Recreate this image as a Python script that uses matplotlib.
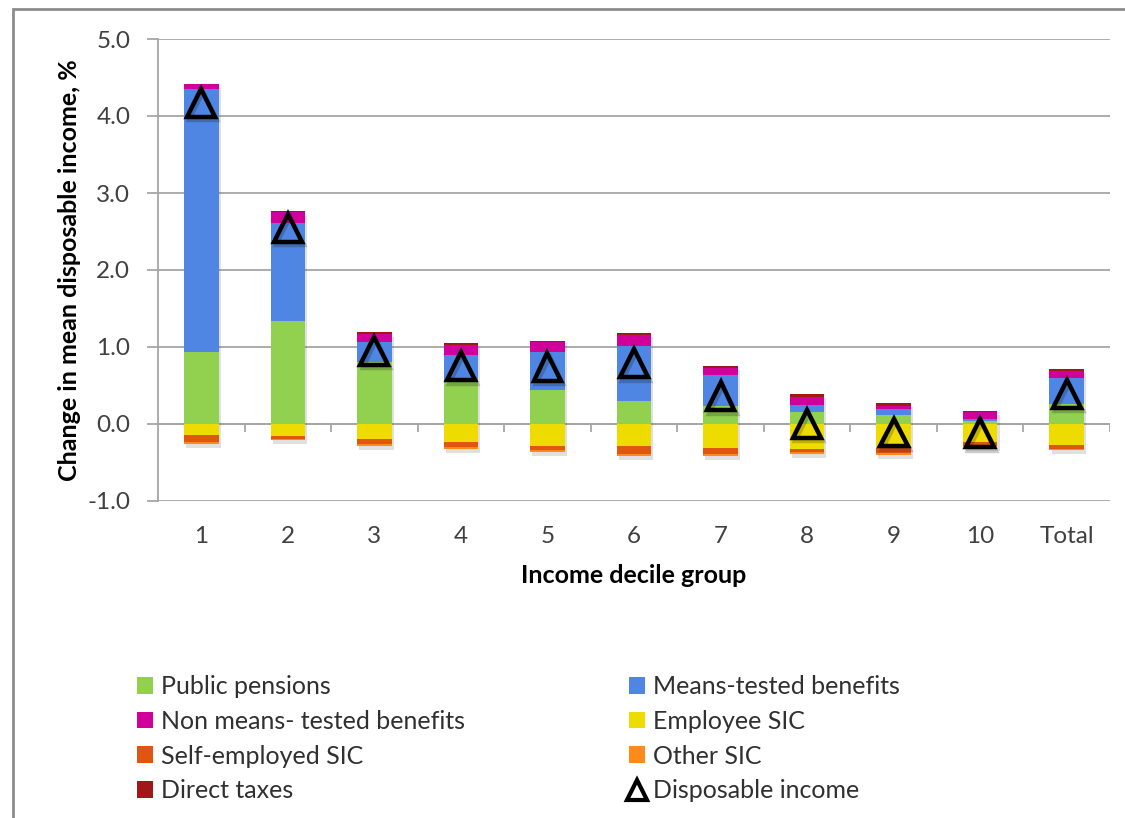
import matplotlib
matplotlib.use("Agg")
import matplotlib.pyplot as plt
import matplotlib.patheffects as pe
from matplotlib.patches import Patch, Rectangle
from matplotlib.lines import Line2D
import numpy as np

plt.rcParams['font.family'] = ['Lato', 'DejaVu Sans']

categories = ['1', '2', '3', '4', '5', '6', '7', '8', '9', '10', 'Total']
public_pensions = [0.93, 1.34, 0.80, 0.54, 0.44, 0.30, 0.23, 0.15, 0.12, 0.04, 0.26]
means_tested = [3.42, 1.27, 0.26, 0.36, 0.49, 0.71, 0.40, 0.10, 0.07, 0.02, 0.34]
non_means_tested = [0.06, 0.14, 0.11, 0.13, 0.13, 0.15, 0.10, 0.10, 0.04, 0.09, 0.09]
direct_taxes = [0.01, 0.01, 0.02, 0.02, 0.02, 0.02, 0.02, 0.04, 0.04, 0.02, 0.03]
employee_sic = [-0.14, -0.16, -0.19, -0.24, -0.28, -0.29, -0.31, -0.32, -0.31, -0.23, -0.27]
self_employed_sic = [-0.10, -0.03, -0.07, -0.06, -0.06, -0.10, -0.08, -0.05, -0.07, -0.05, -0.05]
other_sic = [-0.02, -0.02, -0.02, -0.02, -0.02, -0.02, -0.02, -0.02, -0.02, -0.02, -0.02]
disposable_income = [4.17, 2.55, 0.95, 0.75, 0.74, 0.79, 0.36, 0.00, -0.11, -0.12, 0.39]

positive_series = [
    ('Public pensions', public_pensions, '#92D050'),
    ('Means-tested benefits', means_tested, '#4F86E3'),
    ('Non means- tested benefits', non_means_tested, '#D0009A'),
    ('Direct taxes', direct_taxes, '#A01818'),
]
negative_series = [
    ('Employee SIC', employee_sic, '#EEDC00'),
    ('Self-employed SIC', self_employed_sic, '#E0560E'),
    ('Other SIC', other_sic, '#FF8A1A'),
]
colors = {n: c for n, _, c in positive_series + negative_series}

fig = plt.figure(figsize=(11.25, 8.18), dpi=100)
# outer chart border
fig.patches.append(Rectangle((13/1125, -0.05), 1.2, 1 - 9/818 + 0.05, transform=fig.transFigure,
                             fill=False, edgecolor='#8c8c8c', linewidth=2))

ax = fig.add_axes([158/1125, 1 - 501/818, (1110 - 158)/1125, (501 - 39)/818])
x = np.arange(len(categories))
width = 0.4

pos_total = np.sum([np.array(v) for _, v, _ in positive_series], axis=0)
neg_total = np.sum([np.array(v) for _, v, _ in negative_series], axis=0)
# soft drop shadow behind each whole stack (shadow only, bar itself not drawn)
shadow_bars = ax.bar(x, pos_total - neg_total, width, bottom=neg_total, color='#666666',
                     linewidth=0, zorder=2.5)
for b in shadow_bars:
    b.set_path_effects([pe.SimplePatchShadow(offset=(1.5, -3), alpha=0.16, shadow_rgbFace='#404040')])

bottom = np.zeros(len(categories))
for name, vals, col in positive_series:
    v = np.array(vals)
    ax.bar(x, v, width, bottom=bottom, color=col, zorder=3, linewidth=0)
    bottom += v
bottom = np.zeros(len(categories))
for name, vals, col in negative_series:
    v = np.array(vals)
    ax.bar(x, v, width, bottom=bottom, color=col, zorder=3, linewidth=0)
    bottom += v

ax.plot(x, disposable_income, linestyle='none', marker='^', markersize=20,
        markerfacecolor='none', markeredgecolor='black', markeredgewidth=3.2, zorder=5,
        path_effects=[pe.SimpleLineShadow(offset=(1.5, -2.5), alpha=0.2), pe.Normal()])

ax.set_xlim(-0.5, len(categories) - 0.5)
ax.set_ylim(-1.0, 5.0)
yt = np.arange(-1.0, 5.01, 1.0)
ax.set_yticks(yt)
ax.set_yticklabels([f'{t:.1f}' for t in yt])
ax.yaxis.grid(True, color='#a6a6a6', linewidth=1.3, zorder=0)
ax.set_axisbelow(True)
for s in ['top', 'right', 'bottom']:
    ax.spines[s].set_visible(False)
ax.spines['left'].set_color('#a6a6a6')
ax.spines['left'].set_linewidth(1.3)
ax.tick_params(axis='y', length=8, width=1.3, color='#a6a6a6', labelsize=17.5, labelcolor='#404040', pad=12)
ax.set_xticks(x)
ax.set_xticklabels(categories)
ax.tick_params(axis='x', length=0, labelsize=17.5, labelcolor='#404040', pad=18)

# horizontal axis at zero with tick marks between categories
ax.axhline(0, color='#a6a6a6', linewidth=1.3, zorder=2)
bounds = np.arange(0.5, len(categories), 1.0)
ax.vlines(bounds, -0.105, 0, color='#a6a6a6', linewidth=1.3, zorder=2)

ax.set_ylabel('Change in mean disposable income, %', fontsize=18, fontweight='bold', color='black', labelpad=4.5)
ax.set_xlabel('Income decile group', fontsize=18, fontweight='bold', color='black', labelpad=12)

# legend
def sq(c):
    return Patch(facecolor=c, edgecolor='none')

left_items = [('Public pensions', sq(colors['Public pensions'])),
              ('Non means- tested benefits', sq(colors['Non means- tested benefits'])),
              ('Self-employed SIC', sq(colors['Self-employed SIC'])),
              ('Direct taxes', sq(colors['Direct taxes']))]
tri = Line2D([], [], linestyle='none', marker='^', markersize=14, markerfacecolor='none',
             markeredgecolor='black', markeredgewidth=3)
right_items = [('Means-tested benefits', sq(colors['Means-tested benefits'])),
               ('Employee SIC', sq(colors['Employee SIC'])),
               ('Other SIC', sq(colors['Other SIC'])),
               ('Disposable income', tri)]

for items, xpos in [(left_items, 137/1125), (right_items, 629/1125)]:
    leg = fig.legend([h for _, h in items], [l for l, _ in items], loc='upper left',
                     bbox_to_anchor=(xpos, 1 - 675/818), frameon=False, fontsize=18,
                     handlelength=0.65, handleheight=0.65, handletextpad=0.3,
                     labelspacing=0.47, borderaxespad=0, borderpad=0)
    for t in leg.get_texts():
        t.set_color('#303030')

fig.savefig('out.png', dpi=100)
